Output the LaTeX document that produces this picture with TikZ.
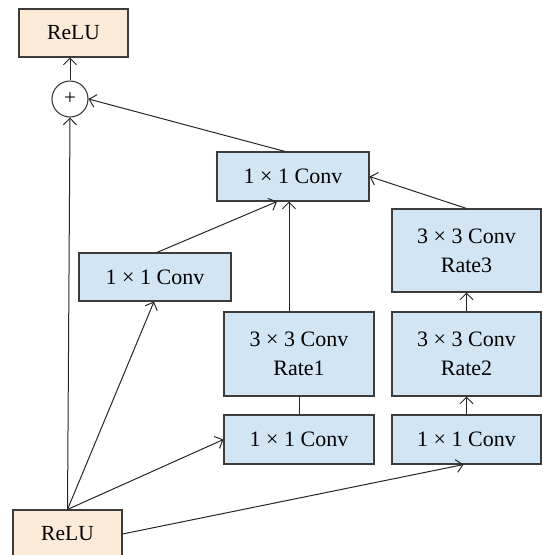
\documentclass[tikz,border=0pt]{standalone}
\usepackage{fontspec}
\setmainfont{Liberation Serif}
\usetikzlibrary{arrows.meta}
\definecolor{boxblue}{HTML}{D2E5F5}
\definecolor{boxorange}{HTML}{FDEBD9}
\definecolor{edge}{HTML}{3C3C3C}
\tikzset{
  convbox/.style={draw=edge, line width=1.1pt, fill=boxblue, inner sep=0pt, align=center,
    font=\fontsize{22}{29}\selectfont},
  relubox/.style={draw=edge, line width=1.1pt, fill=boxorange, inner sep=0pt,
    font=\fontsize{21.5}{24}\selectfont, minimum width=109pt, minimum height=48pt},
  sumnode/.style={draw=edge, line width=1.1pt, circle, minimum size=36pt, inner sep=0pt,
    font=\fontsize{21}{22}\selectfont},
  arr/.style={draw=black!85, line width=1pt, -{Straight Barb[length=6.5pt,width=13pt]}},
  plain/.style={draw=black!85, line width=1pt}
}
\begin{document}
\begin{tikzpicture}[x=1pt,y=-1pt]
\useasboundingbox (0,0) rectangle (542,555);
\node[relubox] (relutop) at (73.5,33) {ReLU};
\node[sumnode] (plus) at (70,99) {+};
\node[convbox, minimum width=152pt, minimum height=49pt] (topconv) at (293,176.5) {1 × 1 Conv};
\node[convbox, minimum width=152pt, minimum height=48pt] (leftconv) at (155,277) {1 × 1 Conv};
\node[convbox, minimum width=150pt, minimum height=84pt] (rateone) at (299,354) {3 × 3 Conv\\Rate1};
\node[convbox, minimum width=150pt, minimum height=49pt] (convone) at (299,439.5) {1 × 1 Conv};
\node[convbox, minimum width=149pt, minimum height=84pt] (ratetwo) at (466.5,354) {3 × 3 Conv\\Rate2};
\node[convbox, minimum width=149pt, minimum height=49pt] (convtwo) at (466.5,439.5) {1 × 1 Conv};
\node[convbox, minimum width=149pt, minimum height=83pt] (ratethree) at (466.5,250.5) {3 × 3 Conv\\Rate3};
\node[relubox] (relubot) at (67.5,534) {ReLU};

\coordinate (src) at (relubot.north);
\draw[arr] (plus.north) -- (plus.north |- relutop.south);
\draw[arr] (src) -- (plus.south);
\draw[arr] (src) -- ([xshift=-1pt]leftconv.south);
\draw[arr] (src) -- (convone.west);
\draw[arr] (relubot.east) -- ([xshift=-3pt]convtwo.south);
\draw[plain] (convone.north) -- (rateone.south);
\draw[arr] ([xshift=-10pt]rateone.north) -- ([xshift=-4pt]topconv.south);
\draw[arr] ([xshift=2pt]leftconv.north) -- ([xshift=-16pt]topconv.south);
\draw[arr] (ratethree.north) -- (topconv.east);
\draw[arr] ([xshift=-8pt]topconv.north) -- (plus.east);
\draw[arr] (convtwo.north) -- (ratetwo.south);
\draw[arr] (ratetwo.north) -- (ratethree.south);
\end{tikzpicture}
\end{document}
